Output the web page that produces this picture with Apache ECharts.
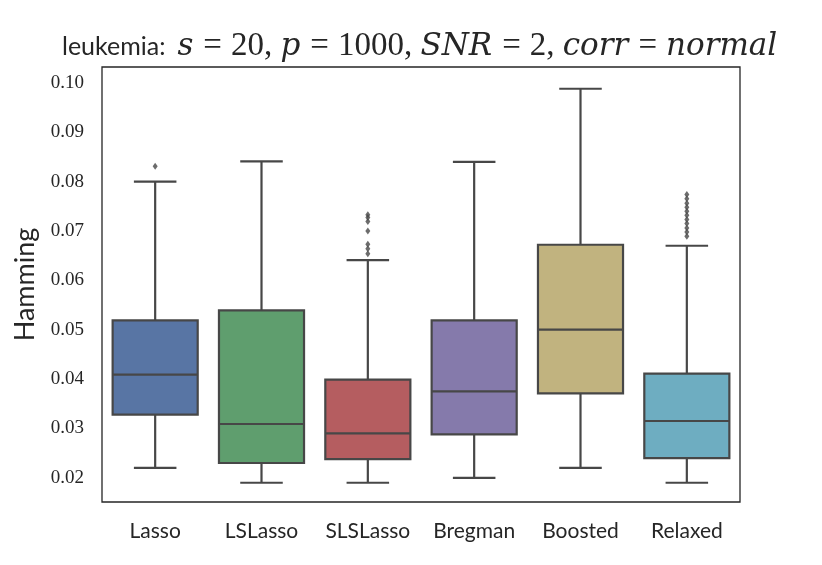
<!DOCTYPE html>
<html>
<head>
<meta charset="utf-8">
<script src="https://cdn.jsdelivr.net/npm/echarts@6/dist/echarts.min.js"></script>
<style>
  html, body { margin: 0; padding: 0; background: #fff; }
  #chart { width: 822px; height: 565px; }
</style>
</head>
<body>
<div id="chart"></div>
<script>
// box statistics
var categories = ['Lasso', 'LSLasso', 'SLSLasso', 'Bregman', 'Boosted', 'Relaxed'];
var whiskerLow = [0.0220, 0.0190, 0.0190, 0.0200, 0.0220, 0.0190];
var quart1 = [0.0328, 0.0230, 0.0238, 0.0288, 0.0371, 0.0240];
var medians = [0.0409, 0.0309, 0.0290, 0.0375, 0.0500, 0.0315];
var quart3 = [0.0519, 0.0539, 0.0399, 0.0519, 0.0672, 0.0411];
var whiskerHigh = [0.0800, 0.0841, 0.0641, 0.0840, 0.0988, 0.0670];

// outliers
var lassoOutliers = [0.0831];
var slsLassoOutliers = [0.0733, 0.0727, 0.0719, 0.0700, 0.0673, 0.0664, 0.0654];
var relaxedOutliers = [0.0774, 0.0765, 0.0756, 0.0748, 0.0740, 0.0732, 0.0723, 0.0715, 0.0706, 0.0698, 0.0689];

var boxColors = ['#5875a4', '#5f9e6e', '#b55d60', '#857aab', '#c1b37f', '#6eadc1'];
var lineColor = '#474747';
var textColor = '#262626';

var chart = echarts.init(document.getElementById('chart'));

var boxData = categories.map(function (c, i) {
  return [i, whiskerLow[i], quart1[i], medians[i], quart3[i], whiskerHigh[i]];
});

var outlierData = [];
lassoOutliers.forEach(function (v) { outlierData.push([0, v]); });
slsLassoOutliers.forEach(function (v) { outlierData.push([2, v]); });
relaxedOutliers.forEach(function (v) { outlierData.push([5, v]); });

function renderBox(params, api) {
  var idx = api.value(0);
  var pLow = api.coord([idx, api.value(1)]);
  var pQ1 = api.coord([idx, api.value(2)]);
  var pMed = api.coord([idx, api.value(3)]);
  var pQ3 = api.coord([idx, api.value(4)]);
  var pHigh = api.coord([idx, api.value(5)]);
  var band = api.size([1, 0])[0];
  var boxW = band * 0.8;
  var capW = boxW / 2;
  var cx = pMed[0];
  var ls = { stroke: lineColor, lineWidth: 2.2 };
  return {
    type: 'group',
    children: [
      { type: 'line', shape: { x1: cx, y1: pLow[1], x2: cx, y2: pQ1[1] }, style: ls },
      { type: 'line', shape: { x1: cx, y1: pQ3[1], x2: cx, y2: pHigh[1] }, style: ls },
      { type: 'line', shape: { x1: cx - capW / 2, y1: pLow[1], x2: cx + capW / 2, y2: pLow[1] }, style: ls },
      { type: 'line', shape: { x1: cx - capW / 2, y1: pHigh[1], x2: cx + capW / 2, y2: pHigh[1] }, style: ls },
      {
        type: 'rect',
        shape: { x: cx - boxW / 2, y: pQ3[1], width: boxW, height: pQ1[1] - pQ3[1] },
        style: { fill: boxColors[params.dataIndex], stroke: lineColor, lineWidth: 2.2 }
      },
      { type: 'line', shape: { x1: cx - boxW / 2, y1: pMed[1], x2: cx + boxW / 2, y2: pMed[1] }, style: ls }
    ]
  };
}

var mathSize = 33;
var option = {
  animation: false,
  title: {
    text: '{sf|leukemia:}{it|s}{eq|=}{rm|20, }{it|p}{eq|=}{rm|1000, }{it|SNR}{eq|=}{rm|2, }{it|corr}{eq|=}{it|normal}',
    left: 62,
    top: 30,
    padding: 0,
    textStyle: {
      fontWeight: 'normal',
      rich: {
        sf: { fontFamily: 'Lato', fontSize: 25, fontWeight: 'normal', color: textColor, padding: [0, 12, 0, 0] },
        rm: { fontFamily: 'Liberation Serif', fontSize: mathSize, fontWeight: 'normal', color: textColor },
        eq: { fontFamily: 'Liberation Serif', fontSize: mathSize, fontWeight: 'normal', color: textColor, padding: [0, 9, 0, 10] },
        it: { fontFamily: 'DejaVu Serif', fontStyle: 'italic', fontSize: mathSize - 2, fontWeight: 'normal', color: textColor }
      }
    }
  },
  grid: {
    left: 102,
    right: 82,
    top: 67,
    bottom: 63,
    show: true,
    borderColor: textColor,
    borderWidth: 1.3
  },
  xAxis: {
    type: 'category',
    data: categories,
    axisLine: { show: false },
    axisTick: { alignWithLabel: true, length: 6, lineStyle: { color: textColor, width: 1.3 } },
    axisLabel: { interval: 0, fontFamily: 'Lato', fontSize: 21, color: textColor, margin: 19 },
    splitLine: { show: false }
  },
  yAxis: {
    type: 'value',
    min: 0.0151,
    max: 0.1032,
    splitNumber: 9,
    name: 'Hamming',
    nameLocation: 'middle',
    nameGap: 63,
    nameTextStyle: { fontFamily: 'Lato', fontSize: 27, color: textColor },
    axisLine: { show: false },
    axisTick: { length: 7, lineStyle: { color: textColor, width: 1.3 } },
    axisLabel: {
      fontFamily: 'Liberation Serif',
      fontSize: 19,
      color: textColor,
      margin: 18,
      showMinLabel: false,
      showMaxLabel: false,
      formatter: function (v) { return v.toFixed(2); }
    },
    splitLine: { show: false }
  },
  series: [
    {
      type: 'custom',
      renderItem: renderBox,
      data: boxData,
      encode: { x: 0, y: [1, 2, 3, 4, 5] },
      z: 2
    },
    {
      type: 'scatter',
      data: outlierData,
      symbol: 'diamond',
      symbolSize: [5, 7],
      itemStyle: { color: lineColor },
      z: 3
    }
  ]
};

chart.setOption(option);
</script>
</body>
</html>
